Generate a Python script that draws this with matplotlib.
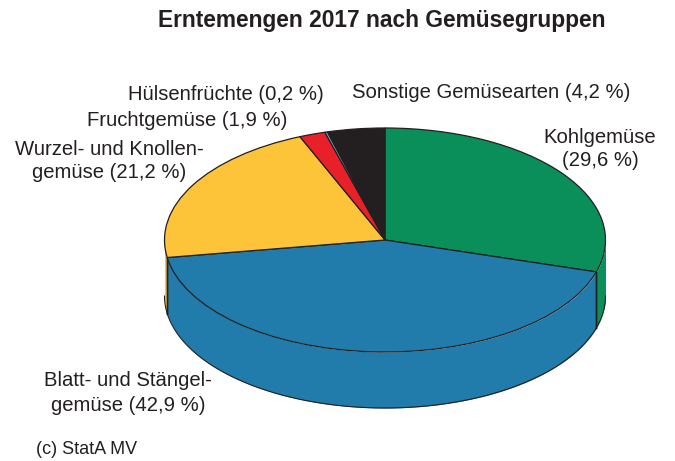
import numpy as np
import matplotlib
matplotlib.use('Agg')
import matplotlib.pyplot as plt

# Erntemengen 2017, Anteile in %
groups = ['Kohlgemüse', 'Blatt- und Stängelgemüse', 'Wurzel- und Knollengemüse',
          'Fruchtgemüse', 'Hülsenfrüchte', 'Sonstige Gemüsearten']
shares = [29.6, 42.9, 21.2, 1.9, 0.2, 4.2]
colors = ['#0a8f5a', '#217bab', '#fdc339', '#e8202a', '#6f9fc0', '#231f20']

W, H = 675, 461
CX, CY = 385, 240      # Mitte der Deckflaeche in Pixeln
RX, RY = 220.5, 112
DEPTH = 56 / RY        # Hoehe des Zylinders in Dateneinheiten
EDGE = '#231f20'

plt.rcParams['font.family'] = ['Liberation Sans', 'DejaVu Sans']

fig = plt.figure(figsize=(W / 100, H / 100), dpi=100)
ax = fig.add_axes([0, 0, 1, 1])

# Mantel: nur der vordere Teil (-180 bis 0 Grad) ist sichtbar
bounds = 90 - np.cumsum([0] + shares) * 3.6
for i, c in enumerate(colors):
    lo, hi = max(bounds[i + 1], -180), min(bounds[i], 0)
    if hi <= lo:
        continue
    t = np.radians(np.linspace(lo, hi, 200))
    xs = np.cos(t)
    ax.fill_between(xs, np.sin(t), np.sin(t) - DEPTH, color=c, lw=0, zorder=1)
    ax.plot(xs, np.sin(t) - DEPTH, color=EDGE, lw=0.8, zorder=2)
    # senkrechte Kanten nur an den Segmentgrenzen, nicht am Umriss
    if lo > -180:
        ax.plot([xs[0], xs[0]], [np.sin(t[0]), np.sin(t[0]) - DEPTH], color=EDGE, lw=1.0, zorder=2)
    if hi < 0:
        ax.plot([xs[-1], xs[-1]], [np.sin(t[-1]), np.sin(t[-1]) - DEPTH], color=EDGE, lw=1.0, zorder=2)

wedges, _ = ax.pie(shares, colors=colors, startangle=90, counterclock=False, radius=1,
                   wedgeprops=dict(edgecolor=EDGE, linewidth=0.9))
for w in wedges:
    w.set_zorder(3)

ax.set_aspect('auto')
ax.set_xlim(-CX / RX, (W - CX) / RX)
ax.set_ylim(-(H - CY) / RY, CY / RY)
ax.axis('off')


def label(x, y, s, **kw):
    fig.text(x / W, 1 - y / H, s, va='center', color='#231f20', fontsize=kw.pop('fontsize', 14.6), **kw)


label(381.5, 20, 'Erntemengen 2017 nach Gemüsegruppen', ha='center', fontsize=16.4, fontweight='bold')
label(491, 92, 'Sonstige Gemüsearten (4,2 %)', ha='center')
label(226, 94, 'Hülsenfrüchte (0,2 %)', ha='center')
label(187, 120, 'Fruchtgemüse (1,9 %)', ha='center')
label(109, 149, 'Wurzel- und Knollen-', ha='center')
label(109, 173, 'gemüse (21,2 %)', ha='center')
label(600, 137, 'Kohlgemüse', ha='center')
label(600, 160, '(29,6 %)', ha='center')
label(128, 381, 'Blatt- und Stängel-', ha='center')
label(128, 405, 'gemüse (42,9 %)', ha='center')
label(36, 449, '(c) StatA MV', ha='left', fontsize=13)

fig.savefig('out.png', dpi=100)
